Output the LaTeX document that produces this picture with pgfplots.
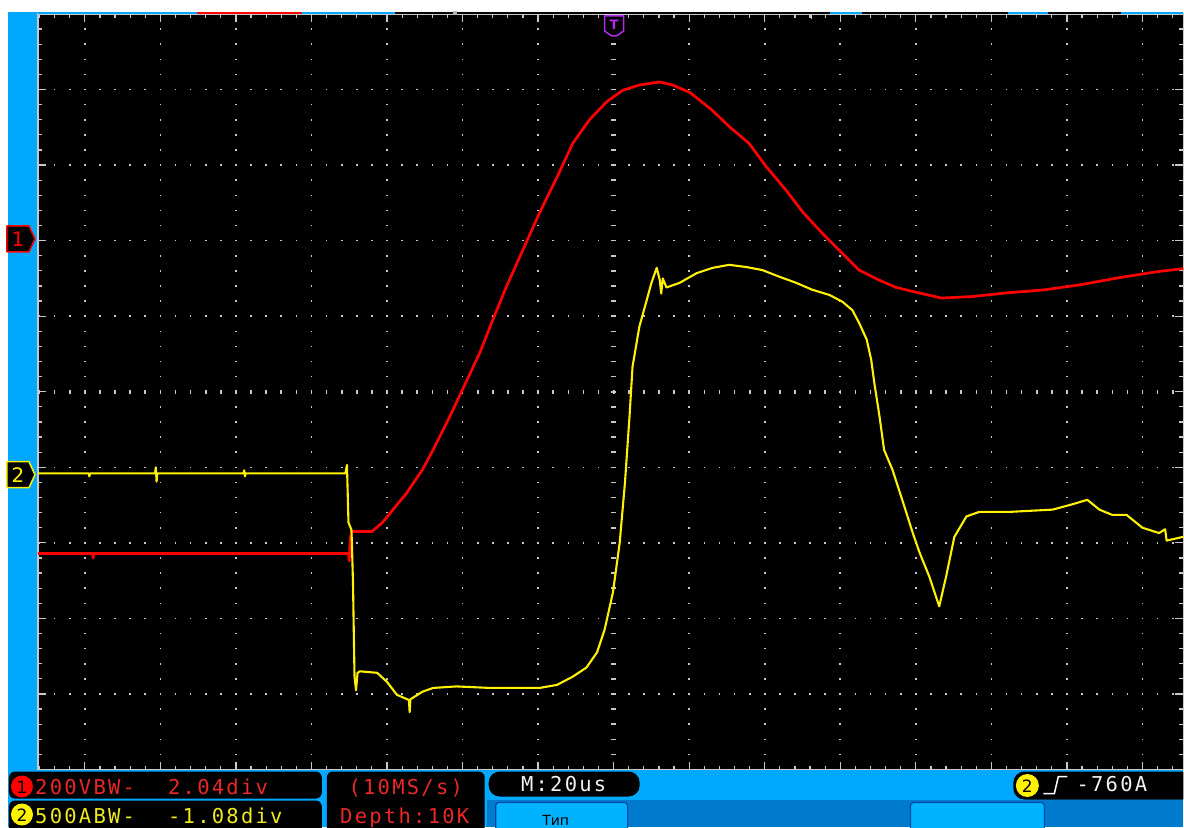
\documentclass[border=0pt]{standalone}
\usepackage{pgfplots}
\pgfplotsset{compat=1.18}
\usepackage{fontspec}
\setmainfont{DejaVu Sans}
\newfontfamily\scopefont[LetterSpace=11]{DejaVu Sans Mono}
\definecolor{scopeblue}{RGB}{0,168,255}
\definecolor{bandblue}{RGB}{0,122,205}
\definecolor{btnblue}{RGB}{0,178,255}
\definecolor{btnedge}{RGB}{0,70,170}
\definecolor{dotgray}{RGB}{200,200,200}
\definecolor{trigpurple}{RGB}{175,45,235}
\definecolor{txtred}{RGB}{235,40,40}
\definecolor{txtyellow}{RGB}{240,235,30}
\pgfdeclarelayer{bg}
\pgfsetlayers{bg,main}
\begin{document}
\begin{tikzpicture}[x=1pt,y=1pt]
\begin{axis}[
  scale only axis, width=1146pt, height=756pt,
  xmin=-7.62, xmax=7.54, ymin=-5, ymax=5,
  axis background/.style={fill=black},
  axis line style={color=dotgray, line width=1.5pt},
  xtick={-7,...,7}, ytick={-5,...,5},
  minor xtick={-7.6,-7.4,...,7.5},
  minor ytick={-4.8,-4.6,...,4.9},
  xticklabels={}, yticklabels={},
  tick align=inside,
  major tick length=8pt, minor tick length=4pt,
  tick style={color=dotgray, line width=1.2pt},
  clip=true,
]
\coordinate (axO) at (rel axis cs:0,0);
% dotted grid
\pgfplotsinvokeforeach{-7,...,7}{
  \draw[dotgray, line width=1.6pt, dash pattern=on 1.6pt off 13.52pt, dash phase=0.8pt]
    (axis cs:#1,-5) -- (axis cs:#1,5);
}
\pgfplotsinvokeforeach{-4,...,4}{
  \draw[dotgray, line width=1.6pt, dash pattern=on 1.6pt off 13.52pt, dash phase=0.8pt]
    (axis cs:-7.6,#1) -- (axis cs:7.6,#1);
}
% centre lines with small ticks
\draw[dotgray, line width=4.5pt, dash pattern=on 1.6pt off 13.52pt, dash phase=0.8pt]
  (axis cs:-7.6,0) -- (axis cs:7.6,0);
\draw[dotgray, line width=4.5pt, dash pattern=on 1.6pt off 13.52pt, dash phase=0.8pt]
  (axis cs:0,-5) -- (axis cs:0,5);
\pgfplotsinvokeforeach{-5,0,5}{
  \draw[dotgray, line width=1.5pt] (axis cs:#1,0) +(-5pt,0) -- +(5pt,0) +(0,-5pt) -- +(0,5pt);
}
% CH1 (red)
\addplot[red, line width=2.7pt, line join=round, mark=none] coordinates {
(-7.62,-2.14) (-6.90,-2.14) (-6.89,-2.20) (-6.88,-2.14) (-3.51,-2.14) (-3.50,-2.24)
(-3.49,-2.00) (-3.47,-1.85) (-3.20,-1.85) (-3.06,-1.73) (-2.74,-1.34) (-2.53,-1.03)
(-2.39,-0.77) (-2.17,-0.33) (-2.00,0.03) (-1.77,0.52) (-1.60,0.95) (-1.42,1.39)
(-1.20,1.88) (-0.98,2.37) (-0.75,2.84) (-0.54,3.29) (-0.32,3.60) (-0.09,3.84)
(0.12,3.99) (0.34,4.06) (0.61,4.10) (0.78,4.06) (1.01,3.96) (1.30,3.73)
(1.53,3.51) (1.79,3.29) (2.02,2.98) (2.28,2.67) (2.51,2.37) (2.76,2.10)
(3.02,1.84) (3.25,1.61) (3.51,1.48) (3.74,1.38) (3.99,1.32) (4.34,1.24)
(4.74,1.26) (5.22,1.31) (5.71,1.35) (6.20,1.42) (6.69,1.51) (7.20,1.59) (7.54,1.63)
};
% CH2 (yellow)
\addplot[yellow, line width=2.1pt, line join=round, mark=none] coordinates {
(-7.62,-1.08) (-6.95,-1.08) (-6.94,-1.12) (-6.93,-1.08) (-6.07,-1.08) (-6.06,-1.00)
(-6.05,-1.19) (-6.04,-1.08) (-4.90,-1.08) (-4.89,-1.04) (-4.88,-1.12) (-4.87,-1.08)
(-3.55,-1.08) (-3.53,-0.97) (-3.51,-1.73) (-3.47,-1.83) (-3.45,-2.53) (-3.43,-3.77)
(-3.41,-3.95) (-3.39,-3.72) (-3.36,-3.70) (-3.13,-3.72) (-3.00,-3.84) (-2.87,-4.01)
(-2.71,-4.08) (-2.70,-4.24) (-2.69,-4.07) (-2.53,-3.97) (-2.39,-3.92) (-2.08,-3.90)
(-1.64,-3.92) (-0.98,-3.92) (-0.75,-3.88) (-0.54,-3.77) (-0.36,-3.65) (-0.22,-3.45)
(-0.12,-3.15) (-0.01,-2.66) (0.08,-2.00) (0.15,-1.20) (0.21,-0.33) (0.25,0.33)
(0.34,0.86) (0.44,1.22) (0.50,1.44) (0.57,1.64) (0.61,1.48) (0.63,1.30) (0.65,1.50)
(0.70,1.38) (0.87,1.44) (1.10,1.57) (1.31,1.64) (1.53,1.68) (1.76,1.65) (1.97,1.61)
(2.20,1.52) (2.42,1.44) (2.63,1.35) (2.86,1.28) (3.03,1.19) (3.16,1.08) (3.25,0.91)
(3.35,0.69) (3.41,0.42) (3.45,0.12) (3.52,-0.33) (3.58,-0.77) (3.69,-1.03)
(3.82,-1.43) (3.96,-1.87) (4.05,-2.13) (4.18,-2.45) (4.31,-2.84) (4.40,-2.45)
(4.51,-1.92) (4.67,-1.65) (4.84,-1.59) (5.24,-1.59) (5.81,-1.56) (6.07,-1.49)
(6.27,-1.43) (6.43,-1.56) (6.60,-1.63) (6.79,-1.63) (7.00,-1.80) (7.22,-1.87)
(7.30,-1.82) (7.32,-1.97) (7.54,-1.92)
};
\end{axis}

% everything else in pixel coordinates measured from the top-left corner
\begin{scope}[shift={(axO)}, xshift=-38pt, yshift=770pt, yscale=-1]
\useasboundingbox (0,0) rectangle (1184,828);
\begin{pgfonlayer}{bg}
\fill[white] (0,0) rectangle (1184,828);
\fill[scopeblue] (8,12) rectangle (40,828);
\fill[scopeblue] (8,768) rectangle (1184,828);
\end{pgfonlayer}
\fill[bandblue] (487,800) rectangle (1184,828);
% top status strip
\draw[scopeblue, line width=2.5pt] (38,13) -- (197,13);
\draw[red, line width=2.5pt] (197,13) -- (302,13);
\draw[scopeblue, line width=2.5pt] (302,13) -- (395,13);
\draw[black, line width=1.5pt] (395,13) -- (1184,13);
\draw[scopeblue, line width=2.5pt] (830,13) -- (863,13);
\draw[scopeblue, line width=2.5pt] (1009,13) -- (1049,13);
\draw[scopeblue, line width=2.5pt] (1122,13) -- (1184,13);
\fill[gray!60] (453,11) rectangle (457,15);
% trigger marker
\draw[trigpurple, fill=black, line width=1.5pt, line join=round]
  (605,16) -- (624,16) -- (624,31) -- (617,36) -- (612,36) -- (605,31) -- cycle;
\node[trigpurple, font=\fontsize{13}{13}\selectfont\bfseries] at (614.5,25) {T};
% channel markers
\draw[red, fill=black, line width=1.5pt, line join=round]
  (7,226) -- (29,226) -- (35,239) -- (29,252) -- (7,252) -- cycle;
\node[red, font=\fontsize{20}{20}\selectfont] at (18,239.5) {1};
\draw[yellow, fill=black, line width=1.5pt, line join=round]
  (7,462) -- (29,462) -- (35,475) -- (29,488) -- (7,488) -- cycle;
\node[yellow, font=\fontsize{20}{20}\selectfont] at (18,475.5) {2};
% bottom panel boxes
\begin{scope}
\clip (0,0) rectangle (1184,828);
\fill[black, rounded corners=6pt] (9,772) rectangle (322,799);
\fill[black, rounded corners=6pt] (9,801) rectangle (322,836);
\fill[black, rounded corners=6pt] (327,772) rectangle (485,836);
\fill[black, rounded corners=11pt] (489,772) rectangle (640,797);
\fill[black, rounded corners=11pt] (1014,772) rectangle (1200,800);
\draw[btnedge, fill=btnblue, line width=1.2pt, rounded corners=3pt] (496,803) rectangle (628,836);
\draw[btnedge, fill=btnblue, line width=1.2pt, rounded corners=3pt] (911,803) rectangle (1045,836);
\end{scope}
% channel info
\fill[red] (22,787) circle (11);
\node[black, font=\fontsize{17}{17}\selectfont] at (22,787.5) {1};
\fill[yellow] (22,815) circle (11);
\node[black, font=\fontsize{17}{17}\selectfont] at (22,815.5) {2};
\node[txtred, anchor=base west, inner sep=0pt, font=\scopefont\fontsize{20.5}{20.5}\selectfont] at (35,795) {200VBW-};
\node[txtred, anchor=base west, inner sep=0pt, font=\scopefont\fontsize{20.5}{20.5}\selectfont] at (168,795) {2.04div};
\node[txtyellow, anchor=base west, inner sep=0pt, font=\scopefont\fontsize{20.5}{20.5}\selectfont] at (35,824) {500ABW-};
\node[txtyellow, anchor=base west, inner sep=0pt, font=\scopefont\fontsize{20.5}{20.5}\selectfont] at (168,824) {-1.08div};
\node[txtred, anchor=base, inner sep=0pt, font=\scopefont\fontsize{20.5}{20.5}\selectfont] at (406,795) {(10MS/s)};
\node[txtred, anchor=base, inner sep=0pt, font=\scopefont\fontsize{20.5}{20.5}\selectfont] at (405,824) {Depth:10K};
\node[white!90!gray, anchor=base, inner sep=0pt, font=\scopefont\fontsize{20.5}{20.5}\selectfont] at (564,792) {M:20us};
\node[black, anchor=base, inner sep=0pt, font=\fontsize{14}{14}\selectfont] at (556,826) {Тип};
% trigger info
\fill[yellow] (1028,786) circle (11.5);
\node[black, font=\fontsize{17}{17}\selectfont] at (1028,786.5) {2};
\draw[white, line width=1.5pt] (1044,794) -- (1055,794) -- (1059,777) -- (1068,777);
\node[white!90!gray, anchor=base west, inner sep=0pt, font=\scopefont\fontsize{20.5}{20.5}\selectfont] at (1077,792) {-760A};
\end{scope}
\end{tikzpicture}
\end{document}
